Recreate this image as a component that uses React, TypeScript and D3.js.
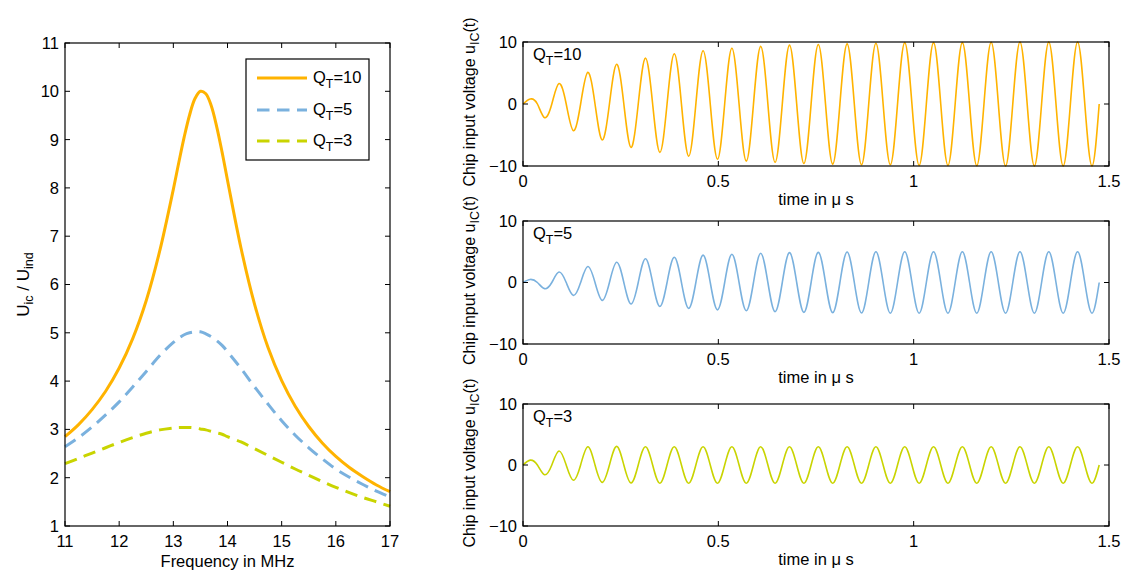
import * as React from 'react';
import * as d3 from 'd3';

// ---- left panel: resonance curves ----
const freqMHz = [11, 11.25, 11.5, 11.75, 12, 12.25, 12.5, 12.75, 13, 13.1, 13.2, 13.3, 13.4, 13.5, 13.6, 13.7, 13.8, 13.9,
  14, 14.25, 14.5, 14.75, 15, 15.25, 15.5, 15.75, 16, 16.25, 16.5, 16.75, 17];
const gainQ10 = [2.85, 3.1, 3.41, 3.79, 4.27, 4.88, 5.67, 6.7, 7.97, 8.52, 9.05, 9.51, 9.85, 10.0, 9.95, 9.7, 9.27, 8.74,
  8.16, 6.75, 5.59, 4.69, 4.01, 3.48, 3.06, 2.72, 2.44, 2.21, 2.02, 1.85, 1.71];
const gainQ5 = [2.64, 2.83, 3.05, 3.3, 3.57, 3.88, 4.2, 4.53, 4.8, 4.89, 4.96, 5.0, 5.02, 5.02, 4.98, 4.92, 4.84, 4.74,
  4.61, 4.26, 3.88, 3.52, 3.18, 2.88, 2.62, 2.39, 2.18, 2.01, 1.86, 1.72, 1.6];
const gainQ3 = [2.29, 2.4, 2.51, 2.62, 2.73, 2.83, 2.92, 2.99, 3.03, 3.04, 3.04, 3.04, 3.03, 3.01, 2.99, 2.96, 2.93, 2.9,
  2.85, 2.74, 2.6, 2.46, 2.32, 2.18, 2.05, 1.92, 1.8, 1.69, 1.59, 1.5, 1.41];
const gainTicksY = [1, 2, 3, 4, 5, 6, 7, 8, 9, 10, 11];
const freqTicks = [11, 12, 13, 14, 15, 16, 17];

// ---- right panels: successive half-wave extremes of the 13.56 MHz carrier ----
const carrierMHz = 13.56;
const voltQ10 = [0.8, -2.2, 3.3, -4.3, 5.1, -5.8, 6.4, -7.0, 7.4, -7.8, 8.1, -8.4, 8.6, -8.9, 9.0, -9.2, 9.3, -9.4, 9.5, -9.6,
  9.6, -9.7, 9.7, -9.8, 9.8, -9.8, 9.9, -9.9, 9.9, -9.9, 9.9, -9.95, 9.95, -10, 10, -10, 10, -10, 10, -10];
const voltQ5 = [0.5, -1.0, 1.7, -2.1, 2.6, -2.9, 3.3, -3.5, 3.85, -3.9, 4.1, -4.2, 4.45, -4.45, 4.6, -4.6, 4.75, -4.75, 4.85, -4.85,
  4.9, -4.9, 4.95, -4.95, 5, -5, 5, -5, 5, -5, 5, -5, 5, -5, 5, -5, 5, -5, 5, -5];
const voltQ3 = [0.8, -1.6, 2.3, -2.5, 3.0, -2.85, 3.05, -2.95, 3.0, -3.0, 3.0, -3.0, 3.0, -3.0, 3.0, -3.0, 3.0, -3.0, 3.0, -3.0,
  3.0, -3.0, 3.0, -3.0, 3.0, -3.0, 3.0, -3.0, 3.0, -3.0, 3.0, -3.0, 3.0, -3.0, 3.0, -3.0, 3.0, -3.0, 3.0, -3.0];
const timeTicks = [0, 0.5, 1, 1.5];
const voltTicks = [-10, 0, 10];

const ORANGE = '#FFB300';
const BLUE = '#7AB1DE';
const GREEN = '#C9D400';
const FONT = '"Liberation Sans", Arial, Helvetica, sans-serif';
const TICK = 5;
const SUB = 12.5;

const fmtNum = (v: number) => (v < 0 ? '\u2212' + Math.abs(v) : String(v));

const toCarrierPoints = (extremes: number[]) => {
  const half = 1 / carrierMHz / 2;
  const pts: [number, number][] = [[0, 0]];
  extremes.forEach((v, i) => {
    pts.push([(i + 0.5) * half, v]);
    pts.push([(i + 1) * half, 0]);
  });
  return pts;
};

const LeftPanel = () => {
  const x = d3.scaleLinear().domain([11, 17]).range([65, 390]);
  const y = d3.scaleLinear().domain([1, 11]).range([526, 43]);
  const line = d3.line<number>()
    .x((_, i) => x(freqMHz[i]))
    .y((d) => y(d))
    .curve(d3.curveCatmullRom.alpha(0.5));
  const series = [
    { vals: gainQ10, color: ORANGE, dash: undefined, sub: '=10' },
    { vals: gainQ5, color: BLUE, dash: '12.5,7.5', sub: '=5' },
    { vals: gainQ3, color: GREEN, dash: '12.5,7.5', sub: '=3' },
  ];
  const legY = [78, 110, 141];
  return (
    <g>
      {series.map((s, i) => (
        <path key={i} d={line(s.vals) || ''} fill="none" stroke={s.color} strokeWidth={3}
          strokeDasharray={s.dash} />
      ))}
      <rect x={65} y={43} width={325} height={483} fill="none" stroke="#000" strokeWidth={1.2} />
      {freqTicks.map((t) => (
        <g key={t}>
          <line x1={x(t)} x2={x(t)} y1={526} y2={526 - TICK} stroke="#000" />
          <line x1={x(t)} x2={x(t)} y1={43} y2={43 + TICK} stroke="#000" />
          <text x={x(t)} y={547} textAnchor="middle">{t}</text>
        </g>
      ))}
      {gainTicksY.map((t) => (
        <g key={t}>
          <line x1={65} x2={65 + TICK} y1={y(t)} y2={y(t)} stroke="#000" />
          <line x1={390} x2={390 - TICK} y1={y(t)} y2={y(t)} stroke="#000" />
          <text x={59} y={y(t)} dy="0.36em" textAnchor="end">{t}</text>
        </g>
      ))}
      <text x={227.5} y={567} textAnchor="middle">Frequency in MHz</text>
      <text transform={`translate(29,${(43 + 526) / 2}) rotate(-90)`} textAnchor="middle" fontSize={17}>
        <tspan>U</tspan><tspan fontSize={SUB} dy={4}>ic</tspan>
        <tspan fontSize={17} dy={-4}> / U</tspan><tspan fontSize={SUB} dy={4}>ind</tspan>
      </text>
      <rect x={246} y={59} width={123} height={101} fill="#fff" stroke="#000" strokeWidth={1.2} />
      {series.map((s, i) => (
        <g key={i}>
          <line x1={257} x2={307} y1={legY[i]} y2={legY[i]} stroke={s.color} strokeWidth={3}
            strokeDasharray={s.dash} />
          <text x={313} y={legY[i] + 5}>
            <tspan>Q</tspan><tspan fontSize={SUB} dy={5}>T</tspan><tspan fontSize={16.5} dy={-5}>{s.sub}</tspan>
          </text>
        </g>
      ))}
    </g>
  );
};

const RightPanel = ({ top, bottom, vals, color, q }: { top: number; bottom: number; vals: number[]; color: string; q: string }) => {
  const x = d3.scaleLinear().domain([0, 1.5]).range([523, 1109]);
  const y = d3.scaleLinear().domain([-10, 10]).range([bottom, top]);
  const line = d3.line<[number, number]>()
    .x((d) => x(d[0]))
    .y((d) => y(d[1]))
    .curve(d3.curveNatural);
  const mid = (top + bottom) / 2;
  return (
    <g>
      <path d={line(toCarrierPoints(vals)) || ''} fill="none" stroke={color} strokeWidth={1.6} />
      <rect x={523} y={top} width={586} height={bottom - top} fill="none" stroke="#000" strokeWidth={1.2} />
      {timeTicks.map((t) => (
        <g key={t}>
          <line x1={x(t)} x2={x(t)} y1={bottom} y2={bottom - TICK} stroke="#000" />
          <line x1={x(t)} x2={x(t)} y1={top} y2={top + TICK} stroke="#000" />
          <text x={x(t)} y={bottom + 21} textAnchor="middle">{t}</text>
        </g>
      ))}
      {voltTicks.map((t) => (
        <g key={t}>
          <line x1={523} x2={523 + TICK} y1={y(t)} y2={y(t)} stroke="#000" />
          <line x1={1109} x2={1109 - TICK} y1={y(t)} y2={y(t)} stroke="#000" />
          <text x={517} y={y(t)} dy="0.36em" textAnchor="end">{fmtNum(t)}</text>
        </g>
      ))}
      <text x={816} y={bottom + 39} textAnchor="middle">time in {'\u03bc'} s</text>
      <text transform={`translate(475,${mid - 2}) rotate(-90)`} textAnchor="middle" fontSize={16}>
        <tspan>Chip input voltage u</tspan><tspan fontSize={SUB} dy={4}>IC</tspan>
        <tspan fontSize={16} dy={-4}>(t)</tspan>
      </text>
      <text x={533} y={top + 18}>
        <tspan>Q</tspan><tspan fontSize={SUB} dy={5}>T</tspan><tspan fontSize={16.5} dy={-5}>{q}</tspan>
      </text>
    </g>
  );
};

export default function App() {
  const panels = [
    { top: 42, bottom: 166, vals: voltQ10, color: ORANGE, q: '=10' },
    { top: 221, bottom: 344, vals: voltQ5, color: BLUE, q: '=5' },
    { top: 404, bottom: 526, vals: voltQ3, color: GREEN, q: '=3' },
  ];
  return (
    <div style={{ position: 'absolute', left: 0, top: 0 }}>
      <svg width={1138} height={576} style={{ display: 'block', background: '#fff' }}
        fontFamily={FONT} fontSize={16.5} fill="#000">
        <LeftPanel />
        {panels.map((p, i) => (
          <RightPanel key={i} {...p} />
        ))}
      </svg>
    </div>
  );
}
